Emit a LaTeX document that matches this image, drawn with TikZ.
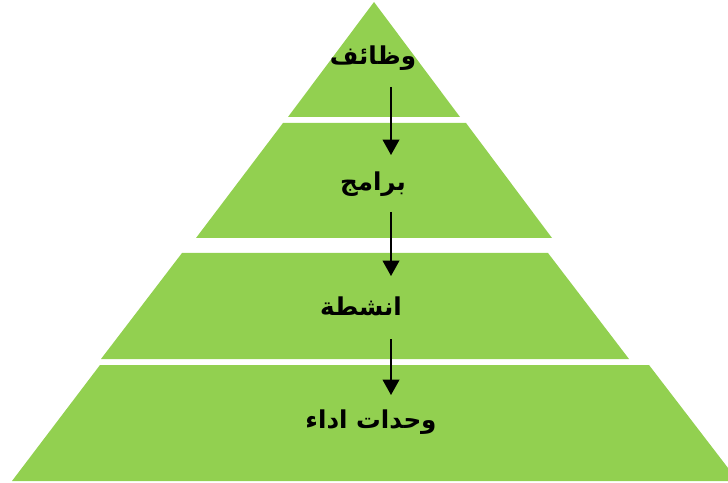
\documentclass[tikz,border=0pt]{standalone}
\usepackage{fontspec}
\newfontfamily\arabicfont[Script=Arabic]{DejaVu Sans}
\TeXXeTstate=1
\usetikzlibrary{arrows.meta}
\definecolor{pyrgreen}{HTML}{92D050}
\begin{document}
\begin{tikzpicture}[x=0.03cm, y=-0.03cm,
    layer/.style={fill=pyrgreen},
    lbl/.style={font=\arabicfont\bfseries\fontsize{21}{24}\selectfont, inner sep=0pt},
    down/.style={-{Triangle[length=4.6mm, width=5mm]}, line width=1.4pt}]

    \useasboundingbox (0,0) rectangle (728,483);

    \fill[layer] (374,2) -- (460,117) -- (288,117) -- cycle;
    \fill[layer] (283,123) -- (466,123) -- (552,238) -- (196,238) -- cycle;
    \fill[layer] (182,253) -- (548,253) -- (629,359) -- (101,359) -- cycle;
    \fill[layer] (100,365) -- (649,365) -- (738,481) -- (12,481) -- cycle;

    \node[lbl] (wazaif)  at (373,58)  {\beginR وظائف\endR};
    \node[lbl] (baramij) at (373,184) {\beginR برامج\endR};
    \node[lbl] (anshita) at (361,306) {\beginR انشطة\endR};
    \node[lbl] (wahdat)  at (371,422) {\beginR وحدات اداء\endR};

    \coordinate (s1) at (391,87);   \coordinate (e1) at (391,155);
    \coordinate (s2) at (391,212);  \coordinate (e2) at (391,276);
    \coordinate (s3) at (391,339);  \coordinate (e3) at (391,395);

    \draw[down] (s1) -- (e1);
    \draw[down] (s2) -- (e2);
    \draw[down] (s3) -- (e3);

\end{tikzpicture}
\end{document}
